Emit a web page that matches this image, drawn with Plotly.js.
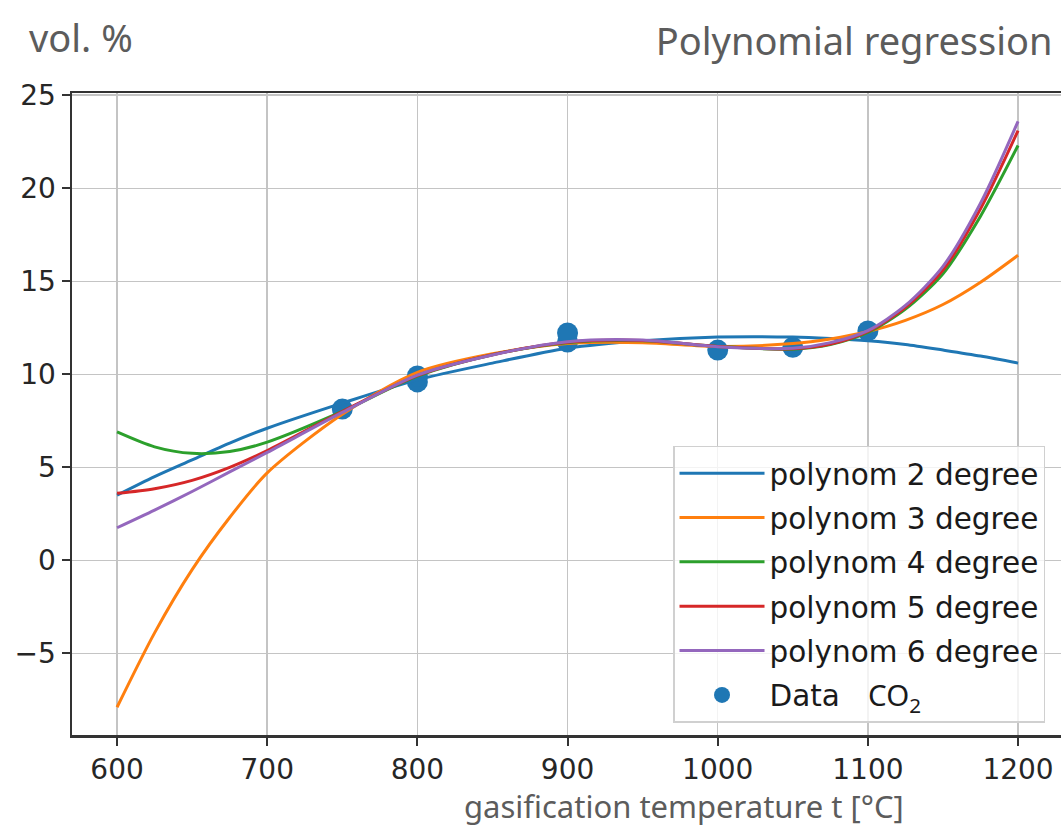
<!DOCTYPE html>
<html>
<head>
<meta charset="utf-8">
<script src="https://cdn.plot.ly/plotly-3.0.1.min.js"></script>
<style>html,body{margin:0;padding:0;background:#fff;}#chart{width:1061px;height:827px;}</style>
</head>
<body>
<div id="chart"></div>
<script>
// Measured data points (CO2, vol. %)
const dataT = [750, 800, 800, 900, 900, 1000, 1050, 1100];
const dataCO2 = [8.13, 9.59, 9.91, 11.73, 12.22, 11.3, 11.45, 12.33];

// Fitted curves, values
const fitT = [600, 625, 650, 675, 700, 750, 800, 850, 900, 950, 1000, 1050, 1075, 1100, 1125, 1150, 1175, 1200];
const poly2 = [3.5, 4.5, 5.4, 6.3, 7.1, 8.45, 9.7, 10.6, 11.4, 11.8, 12.0, 12.0, 11.92, 11.8, 11.6, 11.3, 10.98, 10.6];
const poly3 = [-7.9, -3.9, -0.5, 2.3, 4.7, 7.85, 10.1, 11.1, 11.65, 11.7, 11.5, 11.65, 11.9, 12.3, 12.9, 13.75, 14.95, 16.4];
const poly4 = [6.9, 6.1, 5.75, 5.85, 6.35, 8.0, 9.9, 11.05, 11.7, 11.8, 11.5, 11.35, 11.6, 12.25, 13.5, 15.4, 18.5, 22.3];
const poly5 = [3.6, 3.85, 4.3, 5.0, 5.9, 8.0, 9.93, 11.05, 11.72, 11.82, 11.5, 11.37, 11.62, 12.3, 13.6, 15.6, 18.9, 23.1];
const poly6 = [1.75, 2.7, 3.7, 4.75, 5.8, 7.95, 9.96, 11.04, 11.75, 11.84, 11.48, 11.4, 11.7, 12.35, 13.7, 15.8, 19.2, 23.6];

const seriesNames = ['polynom 2 degree', 'polynom 3 degree', 'polynom 4 degree', 'polynom 5 degree', 'polynom 6 degree'];
const seriesValues = [poly2, poly3, poly4, poly5, poly6];
const seriesColors = ['#1f77b4', '#ff7f0e', '#2ca02c', '#d62728', '#9467bd'];

const tickX = [600, 700, 800, 900, 1000, 1100, 1200];
const tickY = [-5, 0, 5, 10, 15, 20, 25];

const traces = [];
traces.push({
  x: dataT, y: dataCO2, mode: 'markers', type: 'scatter',
  name: 'Data&nbsp;&nbsp;&nbsp;<span style="font-family:Noto Sans">CO<sub>2</sub></span>',
  marker: {color: '#1f77b4', size: 21},
  legendrank: 6, legendgroup: 'g6'
});
seriesValues.forEach((vals, i) => {
  traces.push({
    x: fitT, y: vals, mode: 'lines', type: 'scatter',
    name: seriesNames[i],
    line: {color: seriesColors[i], width: 3, shape: 'spline', smoothing: 0.8},
    legendrank: i + 1, legendgroup: 'g' + i
  });
});

const gray = '#5c5c5c';
const layout = {
  width: 1061, height: 827,
  margin: {l: 72, r: 0, t: 93, b: 92},
  paper_bgcolor: '#ffffff', plot_bgcolor: '#ffffff',
  font: {family: 'DejaVu Sans', size: 28, color: '#262626'},
  title: {text: 'Polynomial regression', x: 0.992, xanchor: 'right', xref: 'container',
          y: 1 - 42/827, yanchor: 'middle', yref: 'container',
          font: {family: 'Noto Sans', size: 38, color: gray}},
  xaxis: {
    range: [570, 1228.6], tickvals: tickX, ticktext: tickX.map(String),
    showgrid: true, gridcolor: '#c4c4c4', gridwidth: 1.5,
    showline: true, linecolor: '#333333', linewidth: 2.5, mirror: true,
    ticks: 'outside', ticklen: 8, tickwidth: 2, tickcolor: '#333333',
    zeroline: false, tickfont: {family: 'DejaVu Sans', size: 28, color: '#262626'}
  },
  yaxis: {
    range: [-9.39, 25.12], tickvals: tickY, ticktext: tickY.map(v => v < 0 ? '\u2212' + Math.abs(v) : String(v)),
    showgrid: true, gridcolor: '#c4c4c4', gridwidth: 1.5,
    showline: true, linecolor: '#333333', linewidth: 2.5, mirror: false,
    ticks: 'outside', ticklen: 8, tickwidth: 2, tickcolor: '#333333',
    zeroline: false, tickfont: {family: 'DejaVu Sans', size: 28, color: '#262626'}
  },
  legend: {
    x: 0.6077, y: 0.4502, xanchor: 'left', yanchor: 'top',
    bgcolor: 'rgba(255,255,255,0.8)', bordercolor: '#d0d0d0', borderwidth: 1.5,
    font: {family: 'DejaVu Sans', size: 29.5, color: '#1a1a1a'},
    tracegroupgap: 3, itemwidth: 85, traceorder: 'grouped'
  },
  showlegend: true,
  annotations: [
    {text: 'vol. %', xref: 'paper', yref: 'paper', x: (27-72)/989, y: 1 + (93-37)/642,
     xanchor: 'left', yanchor: 'middle', showarrow: false,
     font: {family: 'Noto Sans', size: 38, color: gray}},
    {text: 'gasification temperature t [°C]', xref: 'paper', yref: 'paper',
     x: (684-72)/989, y: -(806-735)/642, xanchor: 'center', yanchor: 'middle', showarrow: false,
     font: {family: 'Noto Sans', size: 31, color: gray}}
  ]
};

Plotly.newPlot('chart', traces, layout, {displayModeBar: false, staticPlot: true});
</script>
</body>
</html>
